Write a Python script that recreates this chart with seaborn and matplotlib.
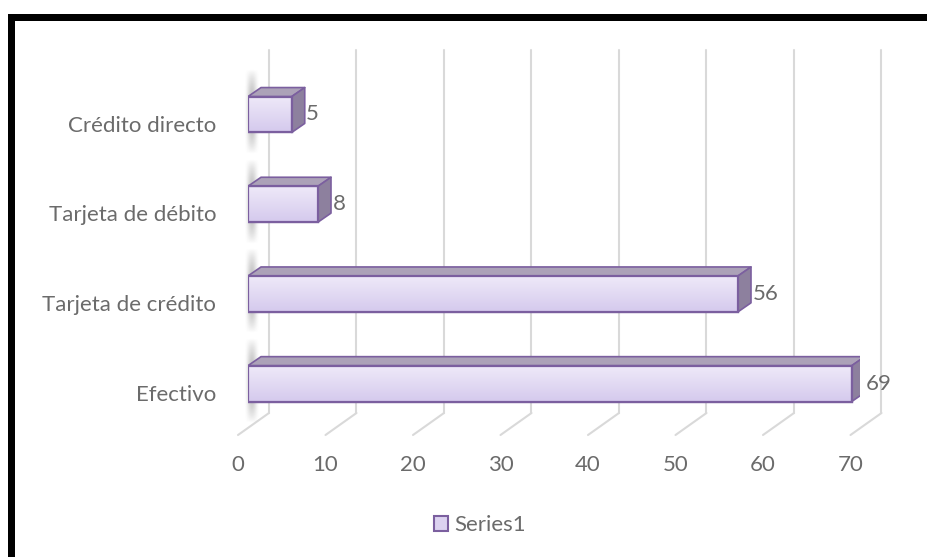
import numpy as np
import matplotlib
matplotlib.use("Agg")
import matplotlib.pyplot as plt
from matplotlib.patches import Polygon, Patch, Rectangle
from matplotlib.transforms import ScaledTranslation
import seaborn as sns

# Payment methods and counts
categories = ["Crédito directo", "Tarjeta de débito", "Tarjeta de crédito", "Efectivo"]
values = [5, 8, 56, 69]
x_ticks = [0, 10, 20, 30, 40, 50, 60, 70]
series_name = "Series1"

sns.set_style("white")
plt.rcParams["font.family"] = ["Lato", "DejaVu Sans"]

TEXT = "#6b6b6b"
GRID = "#d9d9d9"
EDGE = "#7b5f9f"
TOP_FACE = "#aca2b8"
SIDE_FACE = "#8d809e"
FS = 16

W, H = 928, 557
fig = plt.figure(figsize=(W / 100, H / 100), dpi=100, facecolor="white")

# axes box in pixels: x 0..70 -> 248..860.5, category rows -0.5..3.5 -> 69.65..428.35
px_per_unit = 8.75
row_px = 89.7
left, right = 248, 248 + 70 * px_per_unit
top, bottom = 69.65, 69.65 + 4 * row_px
ax = fig.add_axes([left / W, 1 - bottom / H, (right - left) / W, (bottom - top) / H])

sns.barplot(x=values, y=categories, orient="h", color="#ddd3f1", width=0.40,
            edgecolor=EDGE, linewidth=1.6, ax=ax, zorder=3)

ax.set_xlim(0, 70)
ax.set_ylim(3.5, -0.5)

def ydata(py):
    return -0.5 + (py - top) / row_px

# oblique depth of each bar and of the back wall
dx_bar, dy_bar = 13 / px_per_unit, -9 / row_px
back_dx, front_dx = 21 / px_per_unit, -10 / px_per_unit
y_grid_top, y_back_floor, y_front_floor = ydata(50), ydata(413), ydata(435)

for k in x_ticks:
    ax.plot([k + back_dx, k + back_dx], [y_grid_top, y_back_floor], color=GRID,
            lw=1.5, zorder=0, clip_on=False)
    ax.plot([k + back_dx, k + front_dx], [y_back_floor, y_front_floor], color=GRID,
            lw=1.5, zorder=0, clip_on=False)

# vertical gradient for the bar front faces
grad = np.linspace(0, 1, 64)[:, None]
c_top = np.array([0.935, 0.915, 0.975])
c_bot = np.array([0.835, 0.790, 0.930])
grad_img = (c_top * (1 - grad[..., None]) + c_bot * grad[..., None])
grad_img = np.repeat(grad_img, 2, axis=1)

# soft shadow strip behind the left end of each bar
sh_h = np.linspace(0, 1, 32)
sh_v = np.linspace(0, 1, 64)
sh_alpha = np.outer(np.sin(np.pi * sh_v) ** 0.8, np.sin(np.pi * sh_h) ** 2) * 0.45
shadow = np.zeros((64, 32, 4))
shadow[..., :3] = 0.40
shadow[..., 3] = sh_alpha

for patch, v in zip(list(ax.patches), values):
    x0, y0 = patch.get_x(), patch.get_y()
    w, h = patch.get_width(), patch.get_height()
    ax.imshow(shadow, extent=(-0.45, 1.35, y0 + h + 0.24, y0 - 0.30), origin="upper",
              aspect="auto", zorder=1, interpolation="bicubic", clip_on=False)
    im = ax.imshow(grad_img, extent=(x0, x0 + w, y0 + h, y0), origin="upper",
                   aspect="auto", zorder=3.5, interpolation="bilinear")
    im.set_clip_path(patch)
    ax.add_patch(Polygon([(x0, y0), (x0 + w, y0), (x0 + w + dx_bar, y0 + dy_bar),
                          (x0 + dx_bar, y0 + dy_bar)], closed=True, facecolor=TOP_FACE,
                         edgecolor=EDGE, lw=1.2, zorder=4, joinstyle="round"))
    ax.add_patch(Polygon([(x0 + w, y0), (x0 + w + dx_bar, y0 + dy_bar),
                          (x0 + w + dx_bar, y0 + h + dy_bar), (x0 + w, y0 + h)],
                         closed=True, facecolor=SIDE_FACE, edgecolor=EDGE, lw=1.2,
                         zorder=4, joinstyle="round"))
    # redraw the front outline on top of the gradient
    ax.add_patch(plt.Rectangle((x0, y0), w, h, fill=False, edgecolor=EDGE, lw=1.6, zorder=5))
    ax.annotate(f"{v}", xy=(x0 + w, y0 + h / 2), xytext=(14.5, 0),
                textcoords="offset pixels", va="center", ha="left",
                fontsize=FS, color=TEXT, zorder=6)

ax.set_xlim(0, 70)
ax.set_ylim(3.5, -0.5)
ax.set_xticks(x_ticks)
ax.set_xticklabels([str(t) for t in x_ticks])
ax.set_xlabel("")
ax.set_ylabel("")
for s in ax.spines.values():
    s.set_visible(False)
ax.tick_params(axis="both", length=0, labelsize=FS, labelcolor=TEXT)
ax.tick_params(axis="x", pad=19)
ax.tick_params(axis="y", pad=23)
ax.patch.set_alpha(0)

xoff = ScaledTranslation(-10 / 100, 0, fig.dpi_scale_trans)
for lab in ax.get_xticklabels():
    lab.set_transform(lab.get_transform() + xoff)
yoff = ScaledTranslation(0, -9 / 100, fig.dpi_scale_trans)
for lab in ax.get_yticklabels():
    lab.set_transform(lab.get_transform() + yoff)

fig.legend(handles=[Patch(facecolor="#dcd2f0", edgecolor=EDGE, linewidth=1.5)],
           labels=[series_name], loc="center", bbox_to_anchor=(480 / W, 1 - 525 / H),
           frameon=False, fontsize=FS, handlelength=0.65, handleheight=0.65,
           handletextpad=0.3, labelcolor=TEXT)

# thick frame along the top and left edges (filled strips, running off the canvas)
frame_kw = dict(transform=fig.transFigure, facecolor="black", edgecolor="none",
                linewidth=0, zorder=10)
fig.add_artist(Rectangle((8 / W, 1 - 21 / H), 1.0, 7 / H, **frame_kw))
fig.add_artist(Rectangle((8 / W, -0.02), 7 / W, 1 - 14 / H + 0.02, **frame_kw))

fig.savefig("out.png", dpi=100, facecolor="white")
